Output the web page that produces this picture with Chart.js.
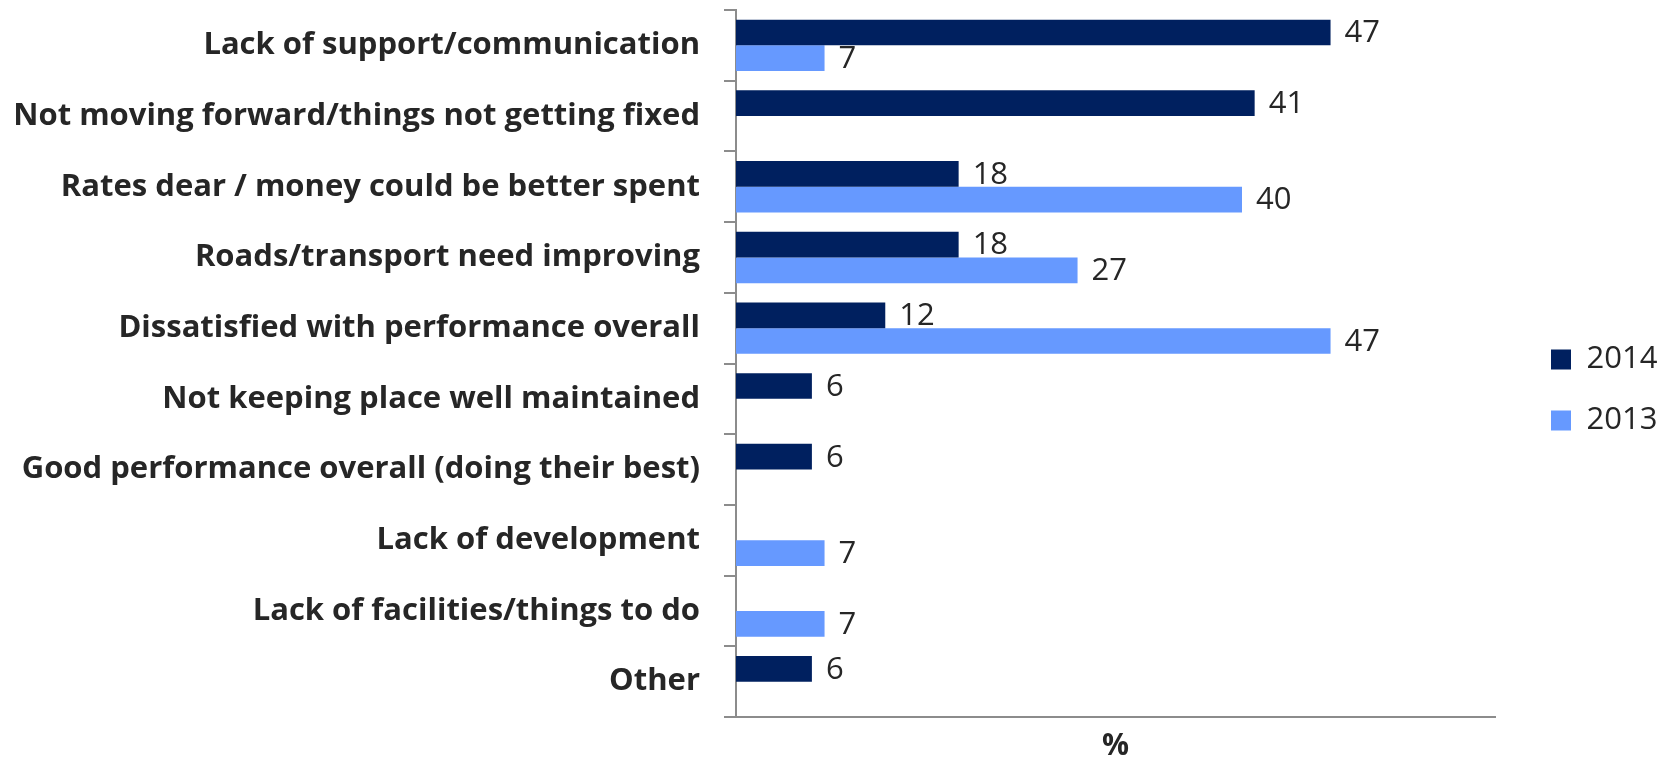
<!DOCTYPE html>
<html>
<head>
<meta charset="utf-8">
<script src="https://cdn.jsdelivr.net/npm/chart.js@4/dist/chart.umd.min.js"></script>
<style>
  html, body { margin: 0; padding: 0; background: #fff; }
  #wrap { width: 1671px; height: 759px; position: relative; }
</style>
</head>
<body>
<div id="wrap"><canvas id="chart"></canvas></div>
<script>
// Chart values
const categories = [
    "Lack of support/communication",
    "Not moving forward/things not getting fixed",
    "Rates dear / money could be better spent",
    "Roads/transport need improving",
    "Dissatisfied with performance overall",
    "Not keeping place well maintained",
    "Good performance overall (doing their best)",
    "Lack of development",
    "Lack of facilities/things to do",
    "Other"
];
const seriesNames = ["2014", "2013"];
const values2014 = [47, 41, 17.6, 17.6, 11.8, 6, 6, null, null, 6];
const values2013 = [7, null, 40, 27, 47, null, null, 7, 7, null];
const axisMax = 60;

const textColor = "#262626";
const axisColor = "#8c8c8c";
const fontFamily = "'Open Sans', sans-serif";

// Draw value labels (rounded) at the end of each bar
const valueLabels = {
    id: "valueLabels",
    afterDatasetsDraw(chart) {
        const ctx = chart.ctx;
        ctx.save();
        ctx.font = "31px " + fontFamily;
        ctx.fillStyle = textColor;
        ctx.textAlign = "left";
        ctx.textBaseline = "middle";
        chart.data.datasets.forEach((ds, i) => {
            const meta = chart.getDatasetMeta(i);
            meta.data.forEach((bar, j) => {
                const v = ds.data[j];
                if (v === null || v === undefined) return;
                ctx.fillText(String(Math.round(v)), bar.x + 14, bar.y + 1);
            });
        });
        ctx.restore();
    }
};

// Move the legend to the right of the plot, beside the middle rows
const legendPlace = {
    id: "legendPlace",
    afterLayout(chart) {
        const lg = chart.legend;
        const pad = lg.options.labels.padding;
        const w = lg.width, h = lg.height;
        lg.left = 1551 - pad;
        lg.right = lg.left + w;
        lg.top = 344 - pad;
        lg.bottom = lg.top + h;
    }
};

new Chart(document.getElementById("chart"), {
    type: "bar",
    data: {
        labels: categories,
        datasets: [
            {
                label: seriesNames[0],
                data: values2014,
                backgroundColor: "#00205F",
                categoryPercentage: 0.727,
                barPercentage: 1.0
            },
            {
                label: seriesNames[1],
                data: values2013,
                backgroundColor: "#6699FF",
                categoryPercentage: 0.727,
                barPercentage: 1.0
            }
        ]
    },
    options: {
        indexAxis: "y",
        responsive: true,
        maintainAspectRatio: false,
        animation: false,
        layout: { padding: { top: 10, right: 176, left: 0, bottom: 0 } },
        plugins: {
            tooltip: { enabled: false },
            legend: {
                position: "chartArea",
                align: "start",
                labels: {
                    boxWidth: 20,
                    boxHeight: 20,
                    padding: 30,
                    color: textColor,
                    font: { family: fontFamily, size: 31 }
                }
            }
        },
        scales: {
            x: {
                min: 0,
                max: axisMax,
                grid: { display: false },
                border: { display: true, color: axisColor, width: 2 },
                ticks: { display: false },
                title: {
                    display: true,
                    text: "%",
                    color: textColor,
                    font: { family: fontFamily, size: 30, weight: "bold", lineHeight: 0.8 },
                    padding: { top: 0, bottom: 1 }
                },
                afterFit(scale) {
                    scale.height = 42;
                    scale.paddingLeft = 0;
                    scale.paddingRight = 0;
                }
            },
            y: {
                grid: {
                    drawOnChartArea: false,
                    drawTicks: true,
                    tickLength: 12,
                    color: axisColor,
                    lineWidth: 2
                },
                border: { display: true, color: axisColor, width: 2 },
                ticks: {
                    color: textColor,
                    padding: 24,
                    autoSkip: false,
                    font: { family: fontFamily, size: 31, weight: "bold" }
                },
                afterFit(scale) {
                    scale.width = 736;
                    scale.paddingTop = 0;
                    scale.paddingBottom = 0;
                }
            }
        }
    },
    plugins: [valueLabels, legendPlace]
});
</script>
</body>
</html>
